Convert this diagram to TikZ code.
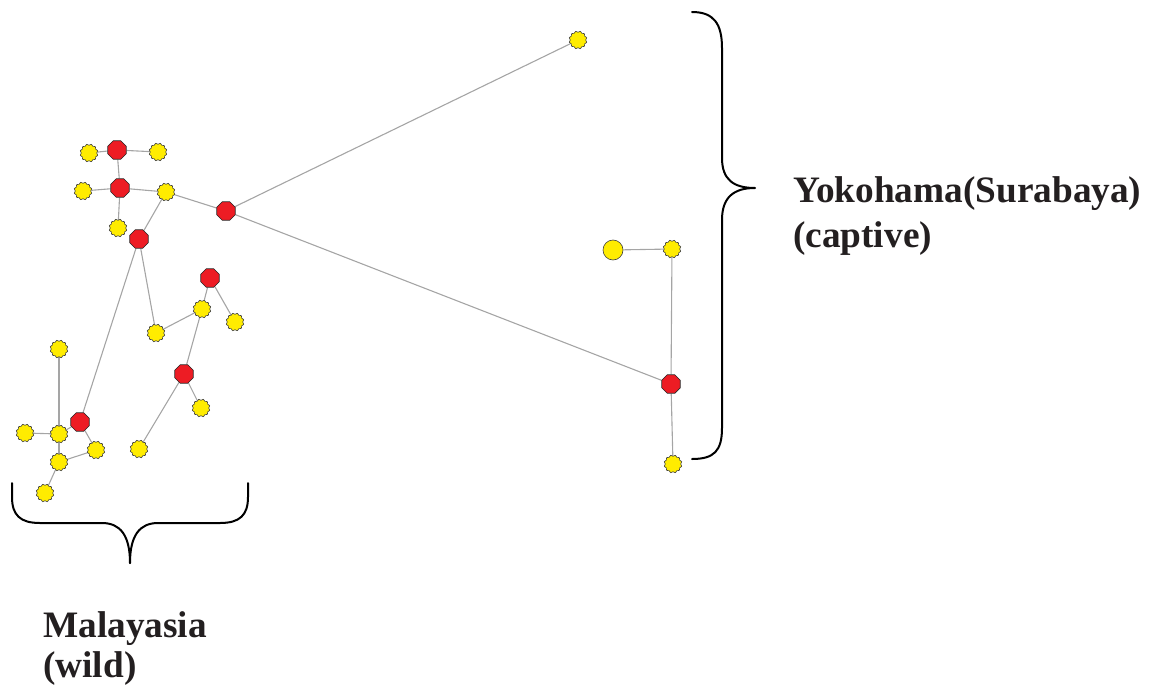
\documentclass[tikz,border=0pt]{standalone}
\usepackage{fontspec}
\setmainfont{Liberation Serif}
\usetikzlibrary{shapes.geometric,backgrounds}
\definecolor{nodered}{RGB}{237,28,36}
\definecolor{nodeyellow}{RGB}{255,236,0}
\definecolor{edgegray}{RGB}{165,165,165}
\definecolor{inkdark}{RGB}{35,31,32}
\tikzset{
  redv/.style={regular polygon, regular polygon sides=8, minimum size=20pt, inner sep=0pt,
    fill=nodered, draw=black!85, line width=0.6pt},
  yelv/.style={star, star points=12, star point ratio=0.86, minimum size=15.5pt, inner sep=0pt,
    fill=nodeyellow, draw=black!75, line width=0.6pt},
  bigyel/.style={circle, minimum size=20pt, inner sep=0pt,
    fill=nodeyellow, draw=black!75, line width=0.6pt},
  link/.style={draw=edgegray, line width=1.1pt},
  bracepath/.style={draw=black, line width=2pt, line cap=round, line join=round},
  caption/.style={anchor=base west, inner sep=0pt, text=inkdark,
    font=\fontsize{37.3}{44}\selectfont\bfseries}
}
\begin{document}
\begin{tikzpicture}[x=1pt,y=-1pt]
\useasboundingbox (0,0) rectangle (1152,691);

% upper-left group
\node[redv] (r1) at (117,150) {};
\node[yelv] (y1) at (89,153) {};
\node[yelv] (y2) at (158,152) {};
\node[redv] (r2) at (120,188) {};
\node[yelv] (y3) at (83,191) {};
\node[yelv] (y4) at (166,192) {};
\node[yelv] (y5) at (118,228) {};
\node[redv] (r3) at (139,239) {};
\node[redv] (r4) at (226,211) {};

% captive group
\node[yelv] (y6) at (578,40) {};
\node[bigyel] (y7) at (613,250) {};
\node[yelv] (y8) at (672,249) {};
\node[redv] (r5) at (671,384) {};
\node[yelv] (y9) at (673,464) {};

% middle group
\node[redv] (r6) at (210,278) {};
\node[yelv] (y10) at (202,309) {};
\node[yelv] (y11) at (235,322) {};
\node[yelv] (y12) at (156,333) {};
\node[redv] (r7) at (184,374) {};
\node[yelv] (y13) at (201,408) {};
\node[yelv] (y14) at (139,449) {};

% lower-left group
\node[redv] (r8) at (80,422) {};
\node[yelv] (y15) at (59,349) {};
\node[yelv] (y16) at (25,433) {};
\node[yelv] (y17) at (59,434) {};
\node[yelv] (y18) at (96,450) {};
\node[yelv] (y19) at (59,462) {};
\node[yelv] (y20) at (45,493) {};

\begin{scope}[on background layer]
  \path[link] (r1) -- (y1);
  \path[link] (r1) -- (y2);
  \path[link] (r1) -- (r2);
  \path[link] (r2) -- (y3);
  \path[link] (r2) -- (y4);
  \path[link] (r2) -- (y5);
  \path[link] (y4) -- (r4);
  \path[link] (y4) -- (r3);
  \path[link] (r4) -- (y6);
  \path[link] (r4) -- (r5);
  \path[link] (r5) -- (y8);
  \path[link] (y8) -- (y7);
  \path[link] (r5) -- (y9);
  \path[link] (r3) -- (y12);
  \path[link] (r3) -- (r8);
  \path[link] (y12) -- (y10);
  \path[link] (r6) -- (y10);
  \path[link] (r6) -- (y11);
  \path[link] (y10) -- (r7);
  \path[link] (r7) -- (y13);
  \path[link] (r7) -- (y14);
  \path[link] (r8) -- (y17);
  \path[link] (r8) -- (y18);
  \path[link] (y15) -- (y17);
  \path[link] (y16) -- (y17);
  \path[link] (y17) -- (y19);
  \path[link] (y19) -- (y18);
  \path[link] (y19) -- (y20);
\end{scope}

% right brace
\coordinate (rbtop) at (692,12);
\coordinate (rbtip) at (755,188);
\coordinate (rbbot) at (692,459);
\path[bracepath] (rbtop) .. controls (714,12) and (722,24) .. (722,48) -- (722,158)
  .. controls (722,180) and (734,188) .. (rbtip)
  .. controls (734,188) and (722,197) .. (722,220) -- (722,428)
  .. controls (722,451) and (714,459) .. (rbbot);

% bottom brace
\coordinate (bbleft) at (12,483);
\coordinate (bbtip) at (130,563);
\coordinate (bbright) at (248,483);
\path[bracepath] (bbleft) -- (12,497) .. controls (12,515) and (20,523) .. (40,523) -- (102,523)
  .. controls (120,523) and (130,535) .. (bbtip);
\path[bracepath] (bbright) -- (248,497) .. controls (248,515) and (240,523) .. (220,523) -- (158,523)
  .. controls (140,523) and (130,535) .. (bbtip);

% captions
\node[caption] (capt1) at (793,202) {Yokohama(Surabaya)};
\node[caption] (capt2) at (793,247) {(captive)};
\node[caption] (wild1) at (43,637) {Malayasia};
\node[caption] (wild2) at (43,677) {(wild)};
\end{tikzpicture}
\end{document}
